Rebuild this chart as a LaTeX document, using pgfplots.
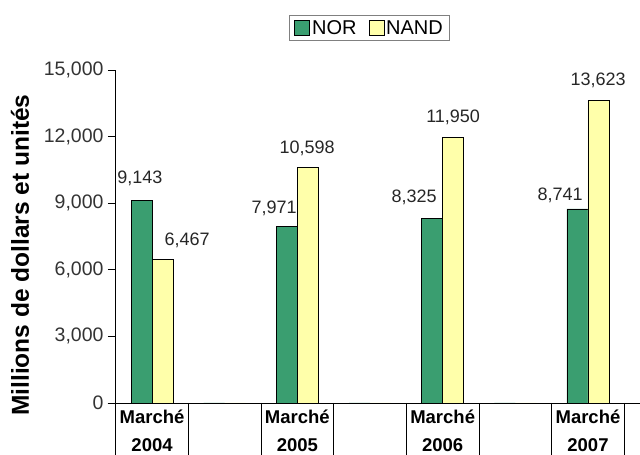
\documentclass[border=0pt]{standalone}
\usepackage{pgfplots}
\pgfplotsset{compat=1.18}
\usepackage{fontspec}
\setmainfont{Liberation Sans}
\definecolor{norgreen}{RGB}{58,158,112}
\definecolor{nandyellow}{RGB}{255,255,170}
\begin{document}
\begin{tikzpicture}
\begin{axis}[
  at={(115bp,52bp)}, anchor=south west,
  scale only axis,
  width=525bp, height=333bp,
  xmin=-0.255, xmax=3.358,
  ymin=0, ymax=15000,
  axis x line*=bottom, axis y line*=left,
  axis line style={black, line width=0.8pt, -},
  ytick={0,3000,6000,9000,12000,15000},
  /pgf/number format/assume math mode=true,
  /pgf/number format/1000 sep={,},
  scaled y ticks=false,
  yticklabel style={font=\fontsize{19.5bp}{22bp}\selectfont, text=black!80, xshift=-1bp},
  ytick style={black, line width=0.8pt},
  tick align=outside,
  major tick length=7bp,
  xtick={0,1,2,3},
  xticklabels={{\textbf{Marché}\\[8bp]\textbf{2004}},{\textbf{Marché}\\[8bp]\textbf{2005}},{\textbf{Marché}\\[8bp]\textbf{2006}},{\textbf{Marché}\\[8bp]\textbf{2007}}},
  xtick style={draw=none},
  xticklabel style={font=\fontsize{18.5bp}{20bp}\selectfont, align=center, yshift=4bp},
  ylabel={\textbf{Millions de dollars et unités}},
  ylabel style={font=\fontsize{24.5bp}{26bp}\selectfont, at={(axis description cs:-0.181,0.444)}, anchor=center},
  legend style={at={(axis description cs:0.485,1.126)}, anchor=center, draw=black!50, line width=0.8pt,
    font=\fontsize{20bp}{22bp}\selectfont, legend columns=2, inner xsep=5bp, inner ysep=3bp,
    /tikz/every even column/.append style={column sep=10bp}},
  legend image code/.code={\draw[#1, line width=0.6pt] (-3bp,-7.5bp) rectangle (12bp,7.5bp);},
  clip=false,
  unbounded coords=jump,
]
\addplot[ybar, bar width=0.1445, fill=norgreen, draw=black, line width=0.8pt, bar shift=-0.07225]
  coordinates {(0,9143) (0.5,0) (1,7971) (1.5,0) (2,8325) (2.5,0) (3,8741)};
\addplot[ybar, bar width=0.1445, fill=nandyellow, draw=black, line width=0.8pt, bar shift=0.07225]
  coordinates {(0,6467) (0.5,0) (1,10598) (1.5,0) (2,11950) (2.5,0) (3,13623)};
\legend{NOR,NAND}
\addplot[black, line width=0.8pt, mark=none, forget plot] coordinates {
  (-0.25,0) (-0.25,-2350) (-0.25,nan)
  (0.25,0) (0.25,-2350) (0.25,nan)
  (0.75,0) (0.75,-2350) (0.75,nan)
  (1.25,0) (1.25,-2350) (1.25,nan)
  (1.75,0) (1.75,-2350) (1.75,nan)
  (2.25,0) (2.25,-2350) (2.25,nan)
  (2.75,0) (2.75,-2350) (2.75,nan)
  (3.25,0) (3.25,-2350)};
\addplot[black, line width=0.8pt, mark=none, forget plot] coordinates {(-0.305,0) (-0.255,0)};
\begin{scope}[every node/.style={font=\fontsize{18bp}{21bp}\selectfont, text=black!85}]
\node at (axis cs:-0.083,10135) {9,143};
\node at (axis cs:0.241,7342) {6,467};
\node at (axis cs:0.840,8784) {7,971};
\node at (axis cs:1.067,11486) {10,598};
\node at (axis cs:1.803,9279) {8,325};
\node at (axis cs:2.072,12883) {11,950};
\node at (axis cs:2.808,9369) {8,741};
\node at (axis cs:3.070,14550) {13,623};
\end{scope}
\end{axis}
\pgfresetboundingbox
\path[use as bounding box] (0,0) rectangle (640bp,455bp);
\end{tikzpicture}
\end{document}
